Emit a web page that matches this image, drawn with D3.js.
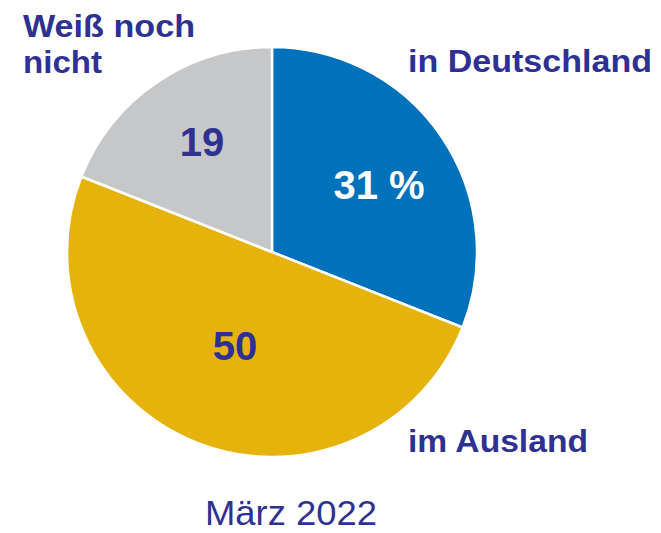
<!DOCTYPE html>
<html lang="de">
<head>
<meta charset="utf-8">
<title>Pie: März 2022</title>
<script src="https://cdn.jsdelivr.net/npm/d3@7"></script>
<style>
body { margin: 0; background: #fff; overflow: hidden; }
svg text { font-family: "Liberation Sans", Arial, sans-serif; }
.label { font-weight: bold; font-size: 32px; fill: #2e3192; }
.value { font-weight: bold; font-size: 40px; }
.title { font-size: 35px; fill: #2e3192; }
</style>
</head>
<body>
<div id="chart"></div>
<script>
// data
var categories = ["in Deutschland", "im Ausland", "Weiß noch nicht"];
var values = [31, 50, 19];
var valueLabels = ["31 %", "50", "19"];
var colors = ["#0071bb", "#e6b30c", "#c6c7c9"];
var valueColors = ["#ffffff", "#2e3192", "#2e3192"];
var title = "März 2022";

var width = 661, height = 533;
var cx = 272, cy = 252, radius = 205;

var svg = d3.select("#chart").append("svg")
    .attr("width", width)
    .attr("height", height)
    .style("display", "block");

var pie = d3.pie().sort(null).value(function(d) { return d; });
var arc = d3.arc().innerRadius(0).outerRadius(radius);

var arcs = pie(values);

var g = svg.append("g").attr("transform", "translate(" + cx + "," + cy + ")");

g.selectAll("path")
    .data(arcs)
    .enter()
    .append("path")
    .attr("d", arc)
    .attr("fill", function(d, i) { return colors[i]; })
    .attr("stroke", "#fff")
    .attr("stroke-width", 2.5)
    .attr("stroke-linejoin", "round");

// value labels inside slices (positions hand-tuned from reference)
var valuePos = [[107, -53], [-37, 108], [-70, -96]];
g.selectAll("text.value")
    .data(arcs)
    .enter()
    .append("text")
    .attr("class", "value")
    .attr("text-anchor", "middle")
    .attr("x", function(d, i) { return valuePos[i][0]; })
    .attr("y", function(d, i) { return valuePos[i][1]; })
    .attr("fill", function(d, i) { return valueColors[i]; })
    .text(function(d, i) { return valueLabels[i]; });

// category labels outside
svg.append("text").attr("class", "label")
    .attr("x", 408).attr("y", 72)
    .attr("textLength", 244).attr("lengthAdjust", "spacingAndGlyphs")
    .text(categories[0]);

svg.append("text").attr("class", "label")
    .attr("x", 408).attr("y", 452)
    .attr("textLength", 180).attr("lengthAdjust", "spacingAndGlyphs")
    .text(categories[1]);

var w = categories[2].split(" ");
svg.append("text").attr("class", "label")
    .attr("x", 23).attr("y", 37)
    .attr("textLength", 172).attr("lengthAdjust", "spacingAndGlyphs")
    .text(w[0] + " " + w[1]);
svg.append("text").attr("class", "label")
    .attr("x", 23).attr("y", 73)
    .attr("textLength", 79).attr("lengthAdjust", "spacingAndGlyphs")
    .text(w[2]);

svg.append("text").attr("class", "title")
    .attr("x", 205).attr("y", 525)
    .attr("textLength", 172).attr("lengthAdjust", "spacingAndGlyphs")
    .text(title);
</script>
</body>
</html>
